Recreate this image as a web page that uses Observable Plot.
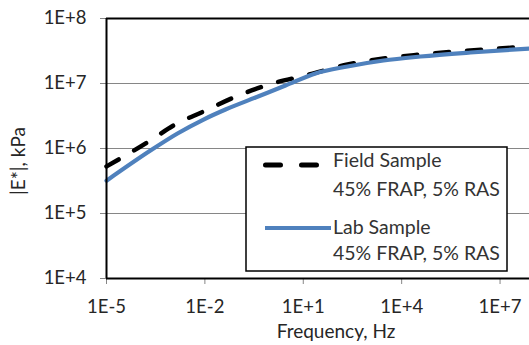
<!DOCTYPE html>
<html><head><meta charset="utf-8">
<script src="https://cdn.jsdelivr.net/npm/d3@7"></script>
<script src="https://cdn.jsdelivr.net/npm/@observablehq/plot@0.6"></script>
<style>
body{margin:0;background:#fff;}
#wrap{position:relative;width:529px;height:345px;overflow:hidden;font-family:Lato,sans-serif;background:#fff;}
#wrap svg{position:absolute;left:0;top:0;}
</style></head><body><div id="wrap"></div>
<script>
// Field Sample (black dashed)
const fieldFreq    = [1e-5, 2.19e-4, 1.1e-3, 9.1e-3, 0.106, 1.15, 11.7, 223, 2790, 37400, 1.25e6, 7.9e7];
const fieldModulus = [5.3e5, 1.33e6, 2.26e6, 3.71e6, 6.53e6, 1.0e7, 1.33e7, 1.96e7, 2.43e7, 2.79e7, 3.22e7, 3.7e7];
// Lab Sample (blue solid)
const labFreq      = [1e-5, 2.19e-4, 1.46e-3, 9.1e-3, 4.25e-2, 0.35, 2.87, 23.5, 223, 2790, 37400, 1.25e6, 7.9e7];
const labModulus   = [3.2e5, 9.3e5, 1.70e6, 2.79e6, 3.98e6, 6.09e6, 9.3e6, 1.43e7, 1.83e7, 2.26e7, 2.6e7, 3.0e7, 3.45e7];

const xTicks = [1e-5, 1e-2, 1e1, 1e4, 1e7];
const xTickLabels = ["1E-5", "1E-2", "1E+1", "1E+4", "1E+7"];
const yTicks = [1e4, 1e5, 1e6, 1e7, 1e8];
const yTickLabels = ["1E+4", "1E+5", "1E+6", "1E+7", "1E+8"];
const seriesNames = ["Field Sample", "Lab Sample"];
const seriesSub = "45% FRAP, 5% RAS";
const xTitle = "Frequency, Hz";
const yTitle = "|E*|, kPa";

const field = fieldFreq.map((f, i) => ({f, e: fieldModulus[i]}));
const lab = labFreq.map((f, i) => ({f, e: labModulus[i]}));

const chart = Plot.plot({
  width: 529, height: 345,
  marginLeft: 106, marginRight: 0, marginTop: 18, marginBottom: 67,
  style: {fontFamily: "Lato, sans-serif", fontSize: "18.5px", color: "#262626", background: "white", overflow: "visible"},
  x: {type: "log", domain: [1e-5, 7.9e7]},
  y: {type: "log", domain: [1e4, 1e8]},
  marks: [
    Plot.ruleY([1e5, 1e6, 1e7], {stroke: "#868686", strokeWidth: 1}),
    Plot.ruleY([1e8], {stroke: "#000", strokeWidth: 2}),
    Plot.axisX({ticks: xTicks, tickFormat: d => xTickLabels[xTicks.indexOf(d)], tickSize: 6, tickPadding: 15, stroke: "#868686", fill: "#262626", label: null}),
    Plot.axisY({ticks: yTicks, tickFormat: d => yTickLabels[yTicks.indexOf(d)], tickSize: 6, tickPadding: 14, stroke: "#868686", fill: "#262626", label: null}),
    Plot.line(field, {x: "f", y: "e", stroke: "#000", strokeWidth: 4.5, strokeDasharray: "14,18", strokeLinecap: "round", curve: "monotone-x"}),
    Plot.line(lab, {x: "f", y: "e", stroke: "#4F81BD", strokeWidth: 4.2, curve: "monotone-x"}),
    Plot.ruleX([1e-5], {stroke: "#000", strokeWidth: 2}),
    Plot.ruleY([1e4], {stroke: "#000", strokeWidth: 2})
  ]
});
const wrap = document.getElementById("wrap");
wrap.appendChild(chart);

// overlay: titles and legend
const ov = d3.select(wrap).append("svg").attr("width", 529).attr("height", 345)
  .style("font-family", "Lato, sans-serif");
ov.append("text").attr("transform", "translate(25,161) rotate(-90)").attr("text-anchor", "middle")
  .attr("font-size", 19).attr("fill", "#262626").text(yTitle);
ov.append("text").attr("x", 336).attr("y", 338).attr("text-anchor", "middle")
  .attr("font-size", 19).attr("fill", "#262626").text(xTitle);

const lg = ov.append("g");
lg.append("rect").attr("x", 246).attr("y", 147).attr("width", 261).attr("height", 124)
  .attr("fill", "#fff").attr("stroke", "#000").attr("stroke-width", 1.5);
lg.append("line").attr("x1", 265.5).attr("x2", 316.5).attr("y1", 165).attr("y2", 165)
  .attr("stroke", "#000").attr("stroke-width", 5).attr("stroke-dasharray", "15,21").attr("stroke-linecap", "round");
lg.append("line").attr("x1", 265).attr("x2", 331).attr("y1", 228).attr("y2", 228)
  .attr("stroke", "#4F81BD").attr("stroke-width", 4);
const lt = [[seriesNames[0], 167], [seriesSub, 196], [seriesNames[1], 234], [seriesSub, 260]];
lt.forEach(([t, y]) => lg.append("text").attr("x", 333).attr("y", y).attr("font-size", 19.5)
  .attr("fill", "#333").text(t));
</script></body></html>
